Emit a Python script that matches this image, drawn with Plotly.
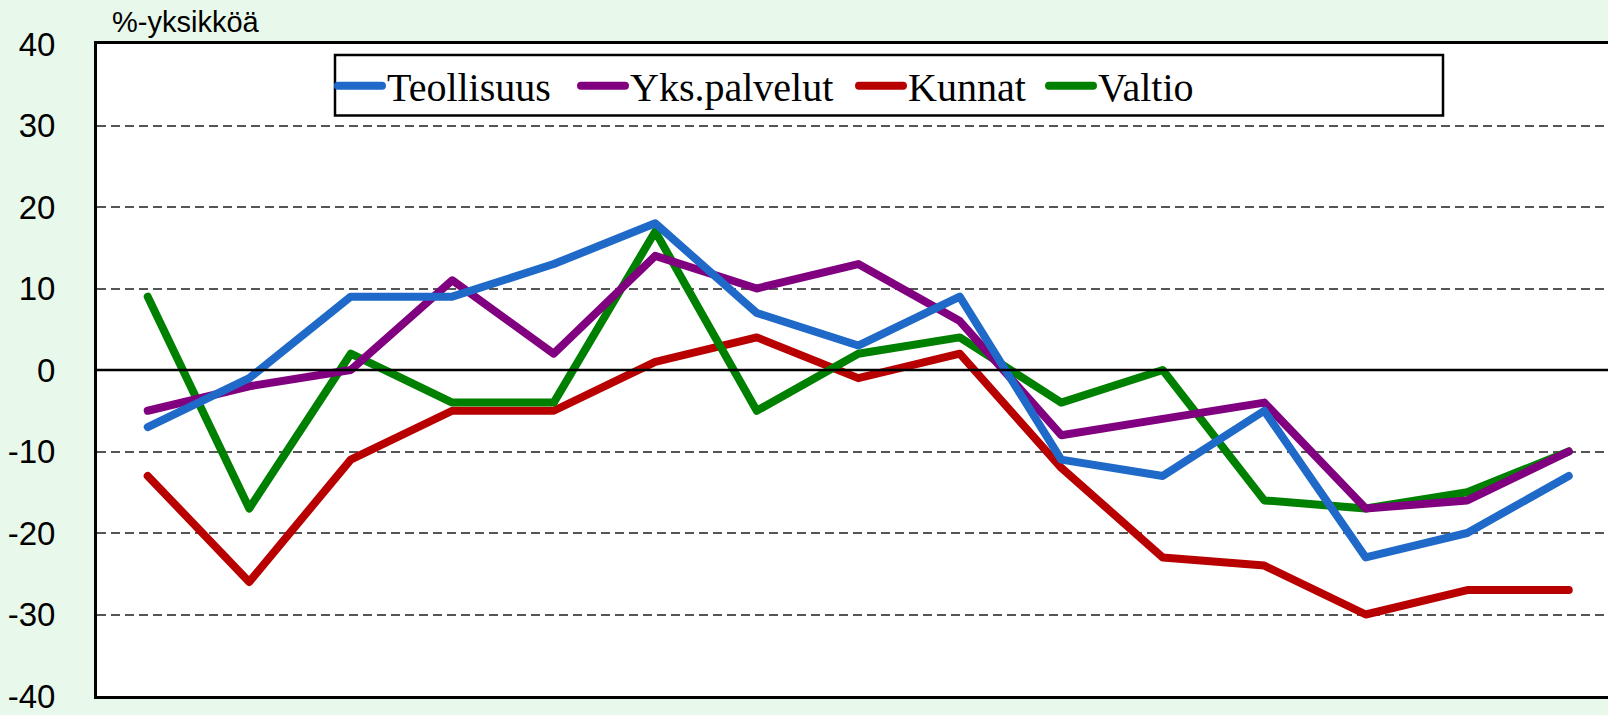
import plotly.graph_objects as go

# ---- data ----
periods = list(range(15))
teollisuus = [-7, -1, 9, 9, 13, 18, 7, 3, 9, -11, -13, -5, -23, -20, -13]
yks_palvelut = [-5, -2, 0, 11, 2, 14, 10, 13, 6, -8, -6, -4, -17, -16, -10]
kunnat = [-13, -26, -11, -5, -5, 1, 4, -1, 2, -12, -23, -24, -30, -27, -27]
valtio = [9, -17, 2, -4, -4, 17, -5, 2, 4, -4, 0, -16, -17, -15, -10]

y_tickvals = [40, 30, 20, 10, 0, -10, -20, -30, -40]
y_ticktext = ["40", "30", "20", "10", "0", "-10", "-20", "-30", "-40"]
y_title = "%-yksikköä"

W, H = 1608, 715
ML, MT, MB = 97, 44, 15
PW = W - ML
PH = H - MT - MB
SPACING = 101.5  # px per category


def fx(px):
    return (px - ML) / PW


def fy(py):
    return (H - MB - py) / PH


fig = go.Figure()

ITEMW = 44
series = [
    ("Kunnat", kunnat, "#b90000", 3, 131),
    ("Valtio", valtio, "#008000", 4, 110),
    ("Yks.palvelut", yks_palvelut, "#800080", 2, 219),
    ("Teollisuus", teollisuus, "#1f69c8", 1, 184),
]
for name, vals, color, rank, lw in series:
    fig.add_trace(go.Scatter(
        x=periods, y=vals, name=name, mode="lines",
        line=dict(color=color, width=8),
        legendrank=rank, legendwidth=lw,
    ))

xmax = (PW / SPACING) - 0.5

fig.update_layout(
    width=W, height=H,
    margin=dict(l=ML, r=0, t=MT, b=MB, pad=0),
    paper_bgcolor="#e8f8ea",
    plot_bgcolor="white",
    font=dict(family="Liberation Sans, Arial", color="black"),
    showlegend=True,
    legend=dict(
        orientation="h",
        x=fx(333), xanchor="left",
        y=fy(86), yanchor="middle",
        bgcolor="rgba(0,0,0,0)", borderwidth=0,
        font=dict(family="Liberation Serif, Times New Roman", size=40, color="black"),
        itemwidth=ITEMW,
        traceorder="normal",
    ),
    xaxis=dict(
        range=[-0.5, xmax], showgrid=False, zeroline=False,
        showticklabels=False, ticks="",
        showline=True, linecolor="black", linewidth=3, mirror=True,
    ),
    yaxis=dict(
        range=[-40, 40], tickvals=y_tickvals, ticktext=y_ticktext,
        showgrid=True, gridcolor="#555555", gridwidth=1.5, griddash="9px,5px",
        zeroline=False,
        showline=True, linecolor="black", linewidth=3, mirror=False,
        ticks="", ticklabelstandoff=32, ticklabeloverflow="allow",
        tickfont=dict(size=33, family="Liberation Sans, Arial", color="black"),
    ),
    shapes=[
        dict(type="line", xref="paper", yref="y", x0=0, x1=1, y0=0, y1=0,
             line=dict(color="black", width=2.5), layer="above"),
        dict(type="rect", xref="paper", yref="paper",
             x0=fx(335), x1=fx(1443), y0=fy(116), y1=fy(55),
             line=dict(color="black", width=2.5), fillcolor="white", layer="above"),
    ],
    annotations=[
        dict(text=y_title, xref="paper", yref="paper",
             x=fx(110), xanchor="left", y=fy(22), yanchor="middle",
             showarrow=False, font=dict(size=29, family="Liberation Sans, Arial", color="black")),
    ],
)

post = (
    "document.body.style.margin='0';document.body.style.overflow='hidden';"
    "document.querySelectorAll('.legendlines path').forEach(function(p){"
    "p.style.strokeWidth='8px';p.style.strokeLinecap='round';});"
    "document.querySelectorAll('.scatterlayer .js-line').forEach(function(p){"
    "p.style.strokeLinecap='round';p.style.strokeLinejoin='round';});"
)

fig.write_html(
    "out.html",
    config={"displayModeBar": False},
    post_script=post,
)
